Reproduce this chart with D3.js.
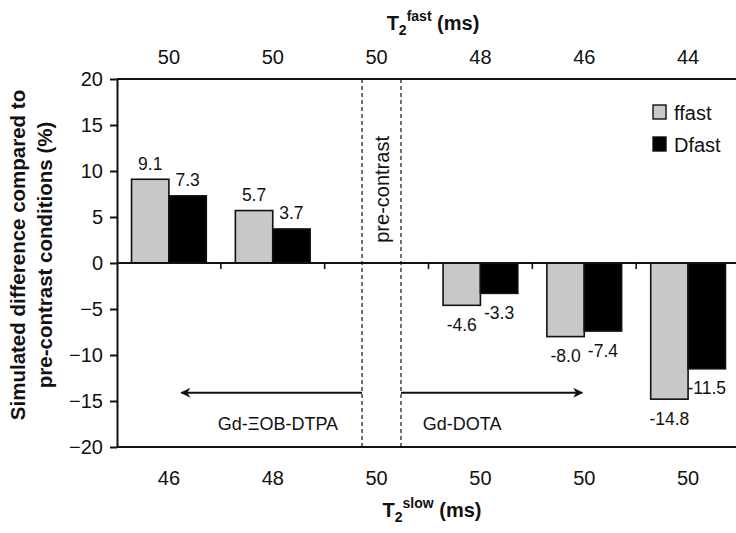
<!DOCTYPE html>
<html>
<head>
<meta charset="utf-8">
<script src="https://cdn.jsdelivr.net/npm/d3@7"></script>
<style>
  html, body { margin: 0; padding: 0; background: #fff; }
  svg { display: block; font-family: "Liberation Sans", Arial, sans-serif; }
</style>
</head>
<body>
<svg id="chart" width="736" height="533"></svg>
<script>
// Groups: T2 fast / slow components for each contrast condition
const groups = [0, 1, 2, 3, 4, 5];
const t2Fast = [50, 50, 50, 48, 46, 44];
const t2Slow = [46, 48, 50, 50, 50, 50];
const seriesNames = ["ffast", "Dfast"];
const ffastValues = [9.1, 5.7, null, -4.6, -8.0, -14.8];
const dfastValues = [7.3, 3.7, null, -3.3, -7.4, -11.5];
const yTicks = [-20, -15, -10, -5, 0, 5, 10, 15, 20];
const seriesColors = ["#c8c8c8", "#000000"];

// Annotation positions in group units (0..6 across the plot)
const preContrastBounds = [2.36, 2.735];
const eobArrowEnd = 0.62;
const dotaArrowEnd = 4.48;
const arrowLevel = -14.1;

const svg = d3.select("#chart");
const plotLeft = 117, plotRight = 740, plotTop = 79, plotBottom = 447;

const x = d3.scaleBand().domain(groups).range([plotLeft, plotRight])
  .paddingInner(0.28).paddingOuter(0.14);
const xs = d3.scaleBand().domain(seriesNames).range([0, x.bandwidth()]);
const y = d3.scaleLinear().domain([-20, 20]).range([plotBottom, plotTop]);
const u = d3.scaleLinear().domain([0, 6]).range([plotLeft, plotLeft + 6 * x.step()]);
// Full-step band scale so axis labels sit at group centres
const xc = d3.scaleBand().domain(groups).range([plotLeft, plotLeft + 6 * x.step()]);

const ink = "#111";

// Bars
const rows = [];
groups.forEach(g => {
  [ffastValues, dfastValues].forEach((vals, s) => {
    if (vals[g] !== null) rows.push({ g, s, name: seriesNames[s], v: vals[g] });
  });
});

svg.append("g").selectAll("rect").data(rows).join("rect")
  .attr("x", d => x(d.g) + xs(d.name))
  .attr("y", d => y(Math.max(0, d.v)))
  .attr("width", xs.bandwidth())
  .attr("height", d => Math.abs(y(d.v) - y(0)))
  .attr("fill", d => seriesColors[d.s])
  .attr("stroke", ink)
  .attr("stroke-width", 1.6);

// Value labels
svg.append("g").selectAll("text").data(rows).join("text")
  .attr("x", d => x(d.g) + xs(d.name) + xs.bandwidth() / 2)
  .attr("y", d => d.v >= 0 ? y(d.v) - 9.5 : y(d.v) + 25.5)
  .attr("text-anchor", "middle")
  .attr("font-size", 17.5)
  .attr("fill", ink)
  .text(d => d.v.toFixed(1));

// Zero line with group separators
svg.append("line")
  .attr("x1", plotLeft).attr("x2", 736)
  .attr("y1", y(0)).attr("y2", y(0))
  .attr("stroke", ink).attr("stroke-width", 2);
svg.append("g").selectAll("line").data(d3.range(1, 6)).join("line")
  .attr("x1", d => u(d)).attr("x2", d => u(d))
  .attr("y1", y(0)).attr("y2", y(0) + 6)
  .attr("stroke", ink).attr("stroke-width", 1.6);

// Pre-contrast dashed bounds
svg.append("g").selectAll("line").data(preContrastBounds).join("line")
  .attr("x1", d => u(d)).attr("x2", d => u(d))
  .attr("y1", y(20)).attr("y2", y(-20))
  .attr("stroke", ink).attr("stroke-width", 1.2)
  .attr("stroke-dasharray", "4,3");

svg.append("text")
  .attr("transform", `translate(${(u(preContrastBounds[0]) + u(preContrastBounds[1])) / 2 + 7.5},${y(8)}) rotate(-90)`)
  .attr("text-anchor", "middle")
  .attr("font-size", 20)
  .attr("fill", ink)
  .text("pre-contrast");

// Arrows for the two contrast agents
const defs = svg.append("defs");
defs.append("marker")
  .attr("id", "head")
  .attr("viewBox", "0 0 10 10")
  .attr("refX", 9).attr("refY", 5)
  .attr("markerWidth", 12).attr("markerHeight", 10)
  .attr("markerUnits", "userSpaceOnUse")
  .attr("orient", "auto")
  .append("path").attr("d", "M0,0 L10,5 L0,10 L3,5 Z").attr("fill", ink);

const arrows = [
  [preContrastBounds[0], eobArrowEnd],
  [preContrastBounds[1], dotaArrowEnd]
];
svg.append("g").selectAll("line").data(arrows).join("line")
  .attr("x1", d => u(d[0])).attr("x2", d => u(d[1]))
  .attr("y1", y(arrowLevel)).attr("y2", y(arrowLevel))
  .attr("stroke", ink).attr("stroke-width", 2)
  .attr("marker-end", "url(#head)");

svg.append("text")
  .attr("x", u(1.55)).attr("y", y(-18.2))
  .attr("text-anchor", "middle").attr("font-size", 18).attr("fill", ink)
  .text("Gd-ΞOB-DTPA");
svg.append("text")
  .attr("x", u(2.945)).attr("y", y(-18.2))
  .attr("text-anchor", "start").attr("font-size", 18).attr("fill", ink)
  .text("Gd-DOTA");

// Y axis
const yAxis = svg.append("g")
  .attr("transform", `translate(${plotLeft},0)`)
  .call(d3.axisLeft(y).tickValues(yTicks).tickSize(7).tickSizeOuter(0).tickPadding(7));
yAxis.selectAll("line").attr("stroke", ink).attr("stroke-width", 2);
yAxis.select(".domain").attr("stroke", ink).attr("stroke-width", 2);
yAxis.selectAll("text").attr("font-size", 20).attr("fill", ink)
  .attr("font-family", "Liberation Sans, Arial, sans-serif");

// Top and bottom frame lines
svg.append("g").selectAll("line").data([20, -20]).join("line")
  .attr("x1", plotLeft).attr("x2", 736)
  .attr("y1", d => y(d)).attr("y2", d => y(d))
  .attr("stroke", ink).attr("stroke-width", 2);

// Top axis: T2 fast
const topAxis = svg.append("g")
  .attr("transform", `translate(0,${plotTop})`)
  .call(d3.axisTop(xc).tickSize(0).tickPadding(15).tickFormat(i => t2Fast[i]));
topAxis.select(".domain").remove();
topAxis.selectAll("text").attr("font-size", 20).attr("fill", ink)
  .attr("font-family", "Liberation Sans, Arial, sans-serif");

// Bottom axis: T2 slow
const botAxis = svg.append("g")
  .attr("transform", `translate(0,${plotBottom})`)
  .call(d3.axisBottom(xc).tickSize(0).tickPadding(24).tickFormat(i => t2Slow[i]));
botAxis.select(".domain").remove();
botAxis.selectAll("text").attr("font-size", 20).attr("fill", ink)
  .attr("font-family", "Liberation Sans, Arial, sans-serif");

// Axis titles
function t2Title(cx, yb, sup) {
  const t = svg.append("text")
    .attr("x", cx).attr("y", yb)
    .attr("text-anchor", "middle")
    .attr("font-weight", "bold").attr("font-size", 20).attr("fill", ink);
  t.append("tspan").text("T");
  t.append("tspan").attr("font-size", 14).attr("dy", 5).text("2");
  t.append("tspan").attr("font-size", 14).attr("dy", -14).text(sup);
  t.append("tspan").attr("dy", 9).text(" (ms)");
}
t2Title(433, 30, "fast");
t2Title(432, 517, "slow");

const yTitle = svg.append("text")
  .attr("transform", "translate(0,255) rotate(-90)")
  .attr("text-anchor", "middle")
  .attr("font-weight", "bold").attr("font-size", 20.5).attr("fill", ink);
yTitle.append("tspan").attr("x", 0).attr("y", 25).text("Simulated difference compared to");
yTitle.append("tspan").attr("x", 0).attr("y", 52).text("pre-contrast conditions (%)");

// Legend
const legend = svg.append("g").selectAll("g").data(seriesNames).join("g")
  .attr("transform", (d, i) => `translate(653,${105 + i * 32})`);
legend.append("rect")
  .attr("width", 13).attr("height", 14)
  .attr("fill", (d, i) => seriesColors[i])
  .attr("stroke", ink).attr("stroke-width", 1.4);
legend.append("text")
  .attr("x", 21).attr("y", 14.5)
  .attr("font-size", 20).attr("fill", ink)
  .text(d => d);
</script>
</body>
</html>
